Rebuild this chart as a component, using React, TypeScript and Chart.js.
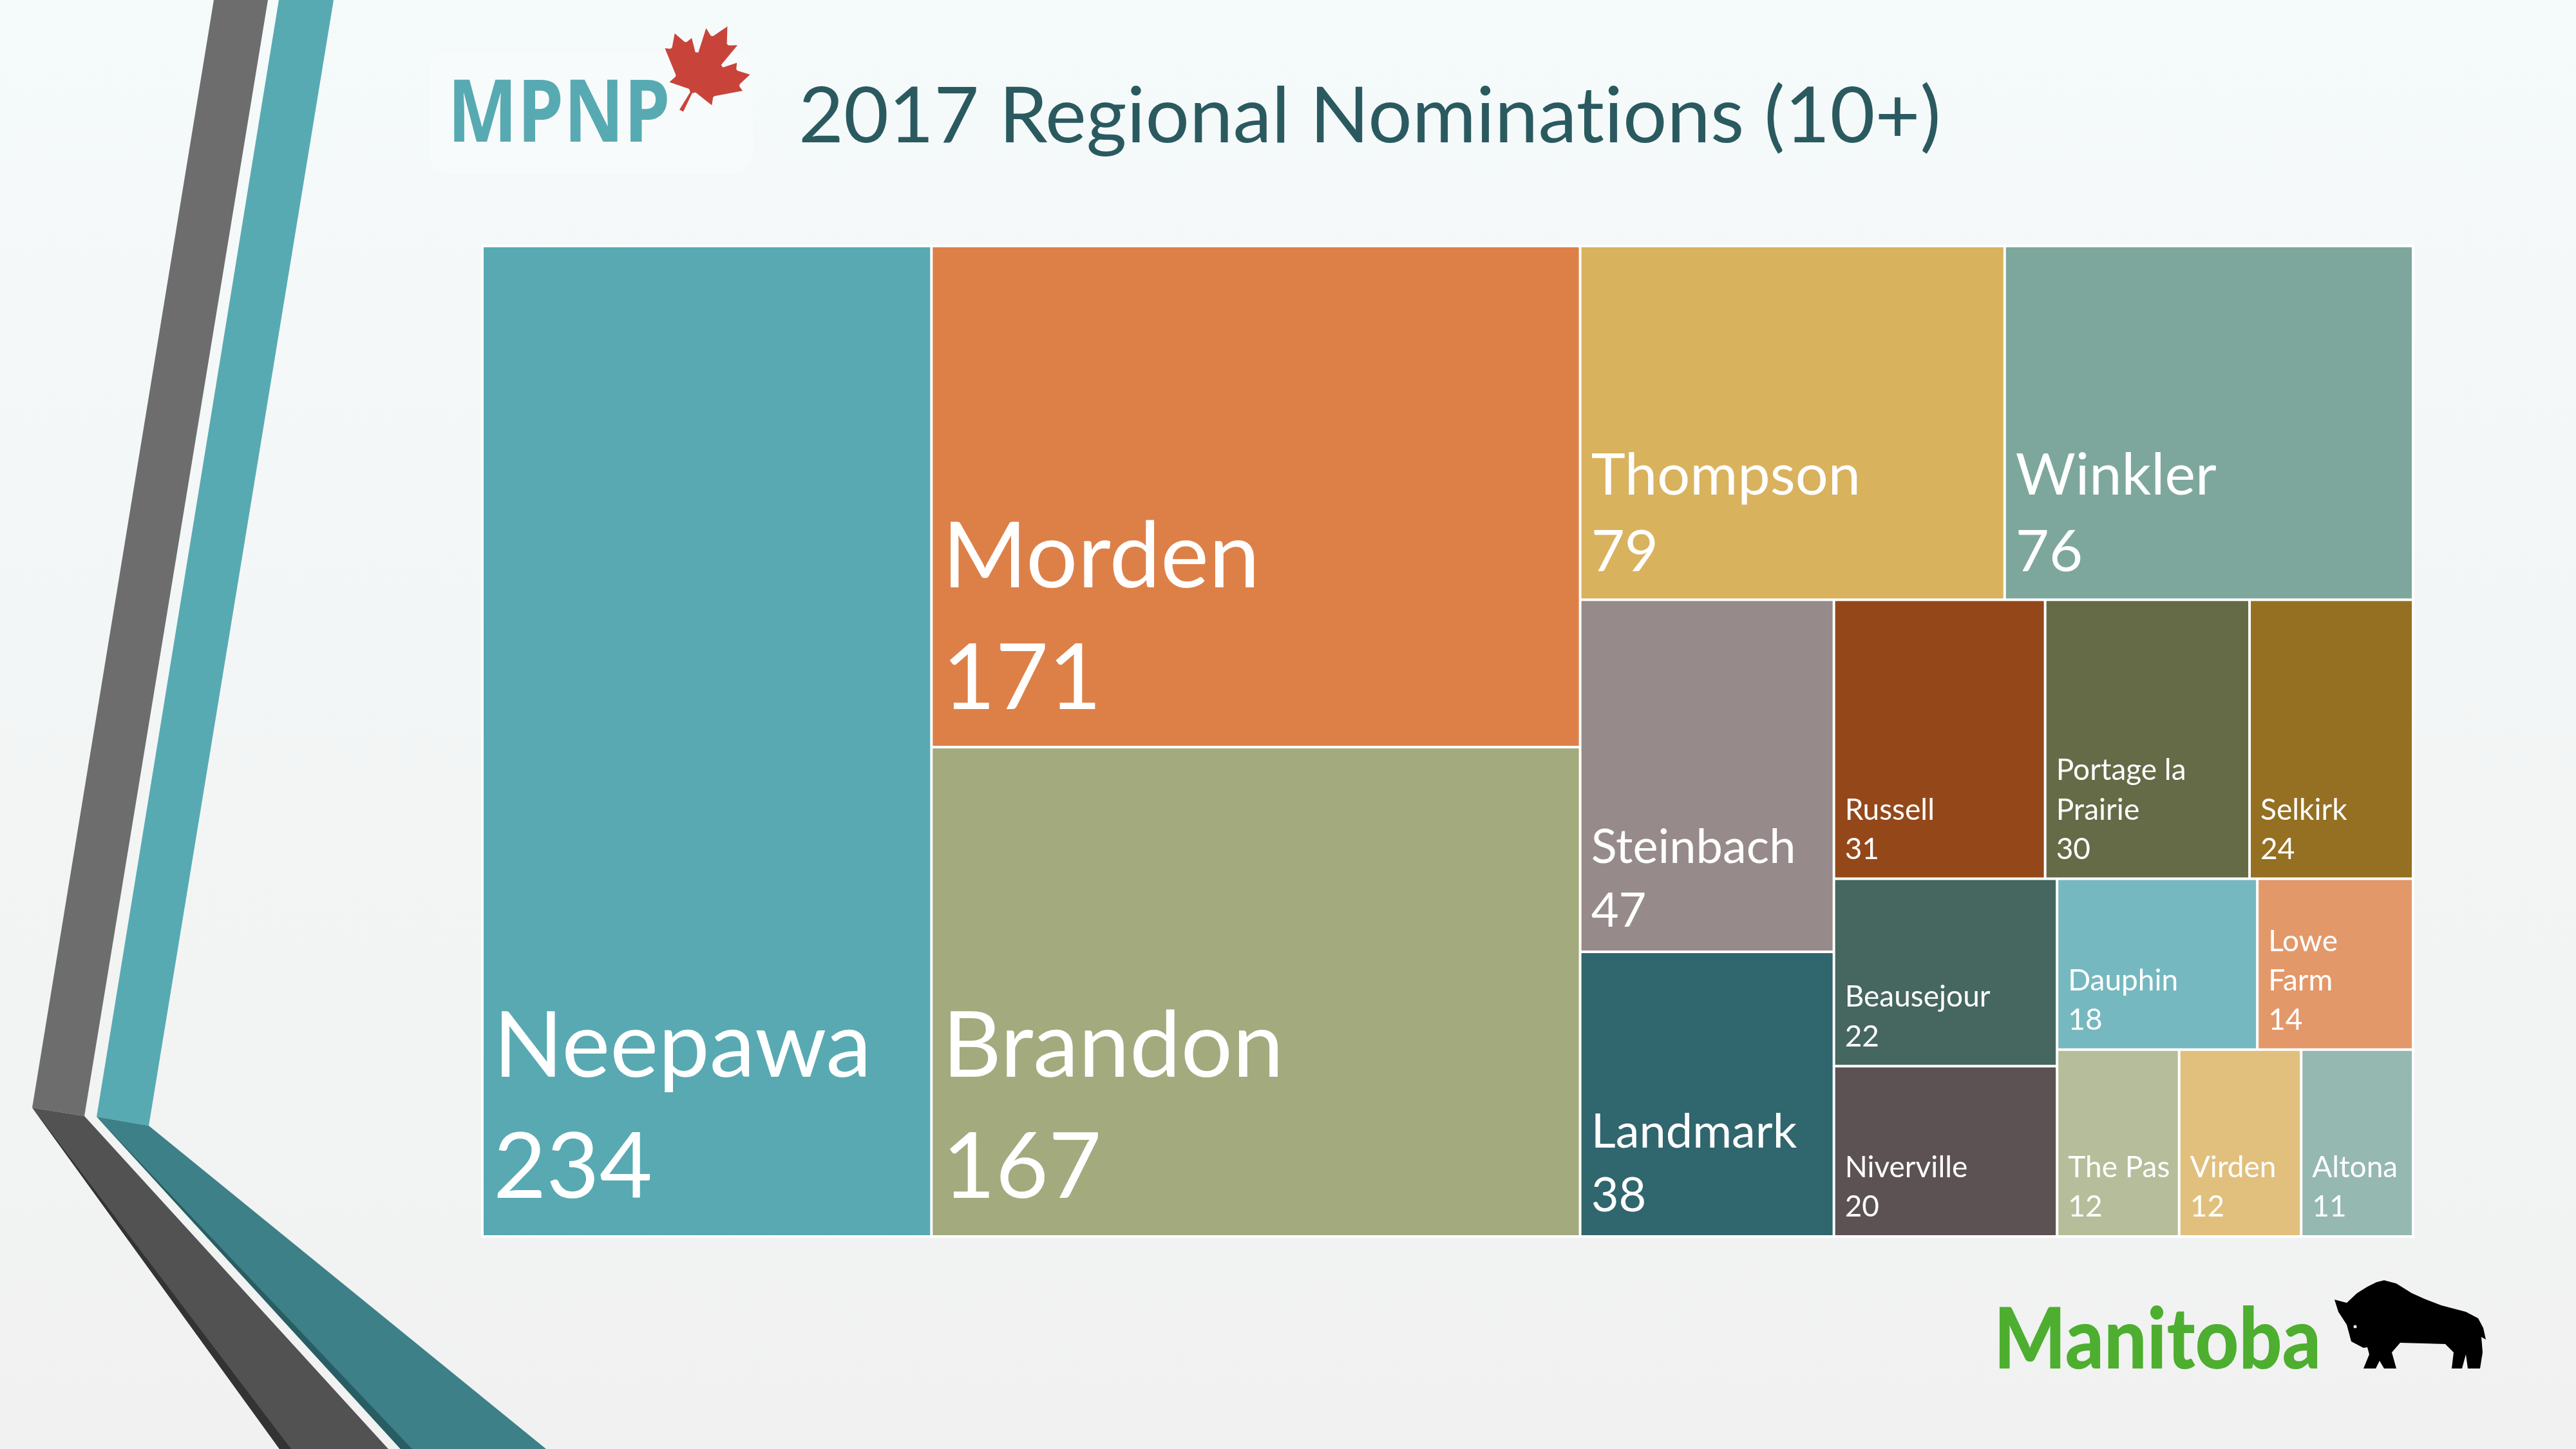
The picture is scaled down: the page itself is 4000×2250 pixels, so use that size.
import React, { useEffect, useRef } from "react";
import { Chart, registerables } from "chart.js";

Chart.register(...registerables);

// ---------- data ----------
const regions = [
  "Neepawa",
  "Morden",
  "Brandon",
  "Thompson",
  "Winkler",
  "Steinbach",
  "Landmark",
  "Russell",
  "Portage la Prairie",
  "Selkirk",
  "Beausejour",
  "Niverville",
  "Dauphin",
  "Lowe Farm",
  "The Pas",
  "Virden",
  "Altona",
];
const nominations = [234, 171, 167, 79, 76, 47, 38, 31, 30, 24, 22, 20, 18, 14, 12, 12, 11];
const cellColors = [
  "#58A9B2",
  "#DD8048",
  "#A3AA7E",
  "#D9B25E",
  "#7DA79C",
  "#968B8A",
  "#30666D",
  "#94481A",
  "#656B47",
  "#957022",
  "#466660",
  "#5C5254",
  "#76B8BF",
  "#E3986A",
  "#B6BD9A",
  "#E1C07E",
  "#95B8B1",
];
// treemap strips: how many regions go into each strip, and the strip direction
const stripCounts = [1, 2, 2, 2, 3, 2, 2, 3];
const stripDirections = ["column", "column", "row", "column", "row", "column", "row", "row"];

const titleParts = ["2017 Regional Nominat", "ions (10+)"]; // drawn in two runs to avoid the "ti" ligature
const logoText = "MPNP";
const provinceText = "Manitoba";

// ---------- layout (in data units 0..1) ----------
type R = { x0: number; y0: number; x1: number; y1: number };
function stripLayout(values: number[], counts: number[], dirs: string[]): R[] {
  let rx = 0, ry = 0, rw = 1, rh = 1;
  let remaining = values.reduce((a, b) => a + b, 0);
  let idx = 0;
  const out: R[] = [];
  counts.forEach((n, s) => {
    const items = values.slice(idx, idx + n);
    const ssum = items.reduce((a, b) => a + b, 0);
    const frac = ssum / remaining;
    if (dirs[s] === "column") {
      const w = rw * frac;
      let yy = ry;
      items.forEach((v) => {
        const h = (rh * v) / ssum;
        out.push({ x0: rx, y0: yy, x1: rx + w, y1: yy + h });
        yy += h;
      });
      rx += w;
      rw -= w;
    } else {
      const h = rh * frac;
      let xx = rx;
      items.forEach((v) => {
        const w = (rw * v) / ssum;
        out.push({ x0: xx, y0: ry, x1: xx + w, y1: ry + h });
        xx += w;
      });
      ry += h;
      rh -= h;
    }
    remaining -= ssum;
    idx += n;
  });
  return out;
}

function poly(ctx: CanvasRenderingContext2D, pts: number[][], color: string) {
  ctx.beginPath();
  pts.forEach((p, i) => (i === 0 ? ctx.moveTo(p[0], p[1]) : ctx.lineTo(p[0], p[1])));
  ctx.closePath();
  ctx.fillStyle = color;
  ctx.fill();
}

const leafPts = [
  [-90, 2030], [-45, 1167], [-156, 1069], [-1015, 1220], [-899, 900], [-919, 827], [-1860, 65],
  [-1648, -34], [-1614, -113], [-1800, -685], [-1258, -570], [-1185, -608], [-1080, -855],
  [-657, -401], [-546, -458], [-750, -1510], [-423, -1321], [-332, -1348], [0, -2000],
  [332, -1348], [423, -1321], [750, -1510], [546, -458], [657, -401], [1080, -855],
  [1185, -608], [1258, -570], [1800, -685], [1614, -113], [1648, -34], [1860, 65],
  [919, 827], [899, 900], [1015, 1220], [156, 1069], [45, 1167], [90, 2030],
];

const bisonPts = [
  [3625, 2018], [3644, 2023], [3660, 2008], [3676, 1998], [3690, 1991], [3702, 1988], [3721, 1993],
  [3745, 2008], [3765, 2017], [3791, 2027], [3829, 2037], [3848, 2047], [3856, 2062], [3860, 2080],
  [3853, 2076], [3855, 2100], [3851, 2125], [3832, 2125], [3829, 2103], [3823, 2125], [3807, 2125],
  [3810, 2100], [3797, 2087], [3727, 2085], [3714, 2100], [3721, 2125], [3702, 2125], [3695, 2113],
  [3689, 2125], [3670, 2125], [3679, 2103], [3676, 2092], [3670, 2093], [3651, 2083], [3644, 2057],
  [3631, 2037],
];

function drawSlide(ctx: CanvasRenderingContext2D, W: number, H: number) {
  // background
  const g = ctx.createLinearGradient(0, 0, 0, H);
  g.addColorStop(0, "#F5FAFA");
  g.addColorStop(1, "#F1F1F1");
  ctx.fillStyle = g;
  ctx.fillRect(0, 0, W, H);

  // left stripes
  poly(ctx, [[332, 0], [416, 0], [131, 1733], [50, 1720]], "#6D6D6D");
  poly(ctx, [[50, 1720], [131, 1733], [603, 2250], [434, 2250]], "#525252");
  poly(ctx, [[50, 1720], [452, 2250], [434, 2250]], "#333333");
  poly(ctx, [[433, 0], [518, 0], [231, 1748], [150, 1734]], "#58AAB2");
  poly(ctx, [[150, 1734], [231, 1748], [848, 2250], [622, 2250]], "#3D8087");
  poly(ctx, [[150, 1734], [640, 2250], [622, 2250]], "#285E63");

  // MPNP logo box
  ctx.save();
  ctx.fillStyle = "rgba(255,255,255,0.3)";
  ctx.beginPath();
  (ctx as any).roundRect(667, 80, 502, 190, 30);
  ctx.fill();
  ctx.restore();

  // MPNP text
  ctx.save();
  ctx.font = 'bold 134px "Open Sans"';
  ctx.textBaseline = "alphabetic";
  const mw = ctx.measureText(logoText).width;
  ctx.translate(695, 220);
  ctx.scale(346 / mw, 1);
  ctx.fillStyle = "#58AAB2";
  ctx.fillText(logoText, 0, 0);
  ctx.restore();

  // maple leaf
  ctx.save();
  ctx.translate(1094, 106);
  ctx.rotate(0.5);
  ctx.scale(0.037, 0.037);
  poly(ctx, leafPts, "#C8443B");
  ctx.restore();

  // title
  ctx.save();
  ctx.font = '100px "Lato"';
  const w1 = ctx.measureText(titleParts[0]).width;
  const w2 = ctx.measureText(titleParts[1]).width;
  const ts = (100 * 1774) / (w1 + w2);
  ctx.font = `${ts}px "Lato"`;
  ctx.fillStyle = "#2A5A5F";
  ctx.textBaseline = "alphabetic";
  const a1 = ctx.measureText(titleParts[0]).width;
  ctx.fillText(titleParts[0], 1240, 221);
  ctx.fillText(titleParts[1], 1240 + a1, 221);
  ctx.restore();

  // Manitoba logo
  ctx.save();
  ctx.font = '900 132px "Lato"';
  const pw = ctx.measureText(provinceText).width;
  ctx.translate(3096, 2125);
  ctx.scale(508 / pw, 1);
  ctx.fillStyle = "#4DAE2F";
  ctx.fillText(provinceText, 0, 0);
  ctx.restore();
  poly(ctx, bisonPts, "#000000");
  ctx.fillStyle = "#F1F1F1";
  ctx.beginPath();
  ctx.arc(3657, 2060, 2.5, 0, Math.PI * 2);
  ctx.fill();
}

function wrapText(ctx: CanvasRenderingContext2D, text: string, maxW: number): string[] {
  const words = text.split(" ");
  const lines: string[] = [];
  let cur = "";
  words.forEach((w) => {
    const t = cur ? cur + " " + w : w;
    if (cur && ctx.measureText(t).width > maxW) {
      lines.push(cur);
      cur = w;
    } else cur = t;
  });
  lines.push(cur);
  return lines;
}

export default function App() {
  const ref = useRef<HTMLCanvasElement>(null);

  useEffect(() => {
    document.body.style.margin = "0";
    const canvas = ref.current!;
    const rects = stripLayout(nominations, stripCounts, stripDirections);

    const slidePlugin = {
      id: "slide",
      beforeDraw(chart: any) {
        drawSlide(chart.ctx, chart.width, chart.height);
      },
    };

    const treemapPlugin = {
      id: "treemapCells",
      afterDatasetsDraw(chart: any) {
        const ctx: CanvasRenderingContext2D = chart.ctx;
        const xs = chart.scales.x;
        const ys = chart.scales.y;
        const L = xs.getPixelForValue(0);
        const Rr = xs.getPixelForValue(1);
        const T = ys.getPixelForValue(0);
        const B = ys.getPixelForValue(1);
        ctx.save();
        ctx.fillStyle = "#FFFFFF";
        ctx.fillRect(L - 2, T - 2, Rr - L + 4, B - T + 4);
        rects.forEach((r, i) => {
          const px0 = xs.getPixelForValue(r.x0);
          const px1 = xs.getPixelForValue(r.x1);
          const py0 = ys.getPixelForValue(r.y0);
          const py1 = ys.getPixelForValue(r.y1);
          const cx = px0 + 2, cy = py0 + 2, cw = px1 - px0 - 4, ch = py1 - py0 - 4;
          ctx.fillStyle = cellColors[i];
          ctx.fillRect(cx, cy, cw, ch);

          const minSide = Math.min(cw, ch);
          const fs = minSide >= 650 ? 142 : minSide >= 500 ? 90 : minSide >= 370 ? 74 : 46;
          ctx.save();
          ctx.beginPath();
          ctx.rect(cx, cy, cw, ch);
          ctx.clip();
          ctx.font = `${fs}px "Lato"`;
          ctx.fillStyle = "#FFFFFF";
          ctx.textBaseline = "alphabetic";
          const pad = 15;
          const lines = wrapText(ctx, regions[i], cw - fs * 0.45 - 4);
          lines.push(String(nominations[i]));
          const lh = fs * 1.33;
          let base = cy + ch - (fs * 0.3 + 15);
          for (let k = lines.length - 1; k >= 0; k--) {
            ctx.fillText(lines[k], cx + pad, base);
            base -= lh;
          }
          ctx.restore();
        });
        ctx.restore();
      },
    };

    let chart: Chart | null = null;
    let cancelled = false;
    const make = () => {
      if (cancelled) return;
      chart = new Chart(canvas, {
        type: "scatter",
        data: {
          datasets: [
            {
              label: "Nominations",
              data: rects.map((r, i) => ({ x: (r.x0 + r.x1) / 2, y: (r.y0 + r.y1) / 2, v: nominations[i] })) as any,
              pointRadius: 0,
              showLine: false,
            },
          ],
        },
        options: {
          animation: false,
          responsive: false,
          devicePixelRatio: 1,
          events: [],
          layout: { padding: { left: 749, top: 382, right: 253, bottom: 330 } },
          scales: {
            x: { type: "linear", min: 0, max: 1, display: false },
            y: { type: "linear", min: 0, max: 1, reverse: true, display: false },
          },
          plugins: { legend: { display: false }, tooltip: { enabled: false }, title: { display: false } },
        },
        plugins: [slidePlugin, treemapPlugin],
      });
    };
    const fontsReady = (document as any).fonts
      ? Promise.all([
          (document as any).fonts.load('100px "Lato"'),
          (document as any).fonts.load('900 100px "Lato"'),
          (document as any).fonts.load('bold 100px "Open Sans"'),
        ]).catch(() => null)
      : Promise.resolve(null);
    fontsReady.then(make);
    return () => {
      cancelled = true;
      if (chart) chart.destroy();
    };
  }, []);

  return (
    <div style={{ position: "absolute", left: 0, top: 0, width: 4000, height: 2250, overflow: "hidden" }}>
      <canvas ref={ref} width={4000} height={2250} style={{ display: "block", width: 4000, height: 2250 }} />
    </div>
  );
}
